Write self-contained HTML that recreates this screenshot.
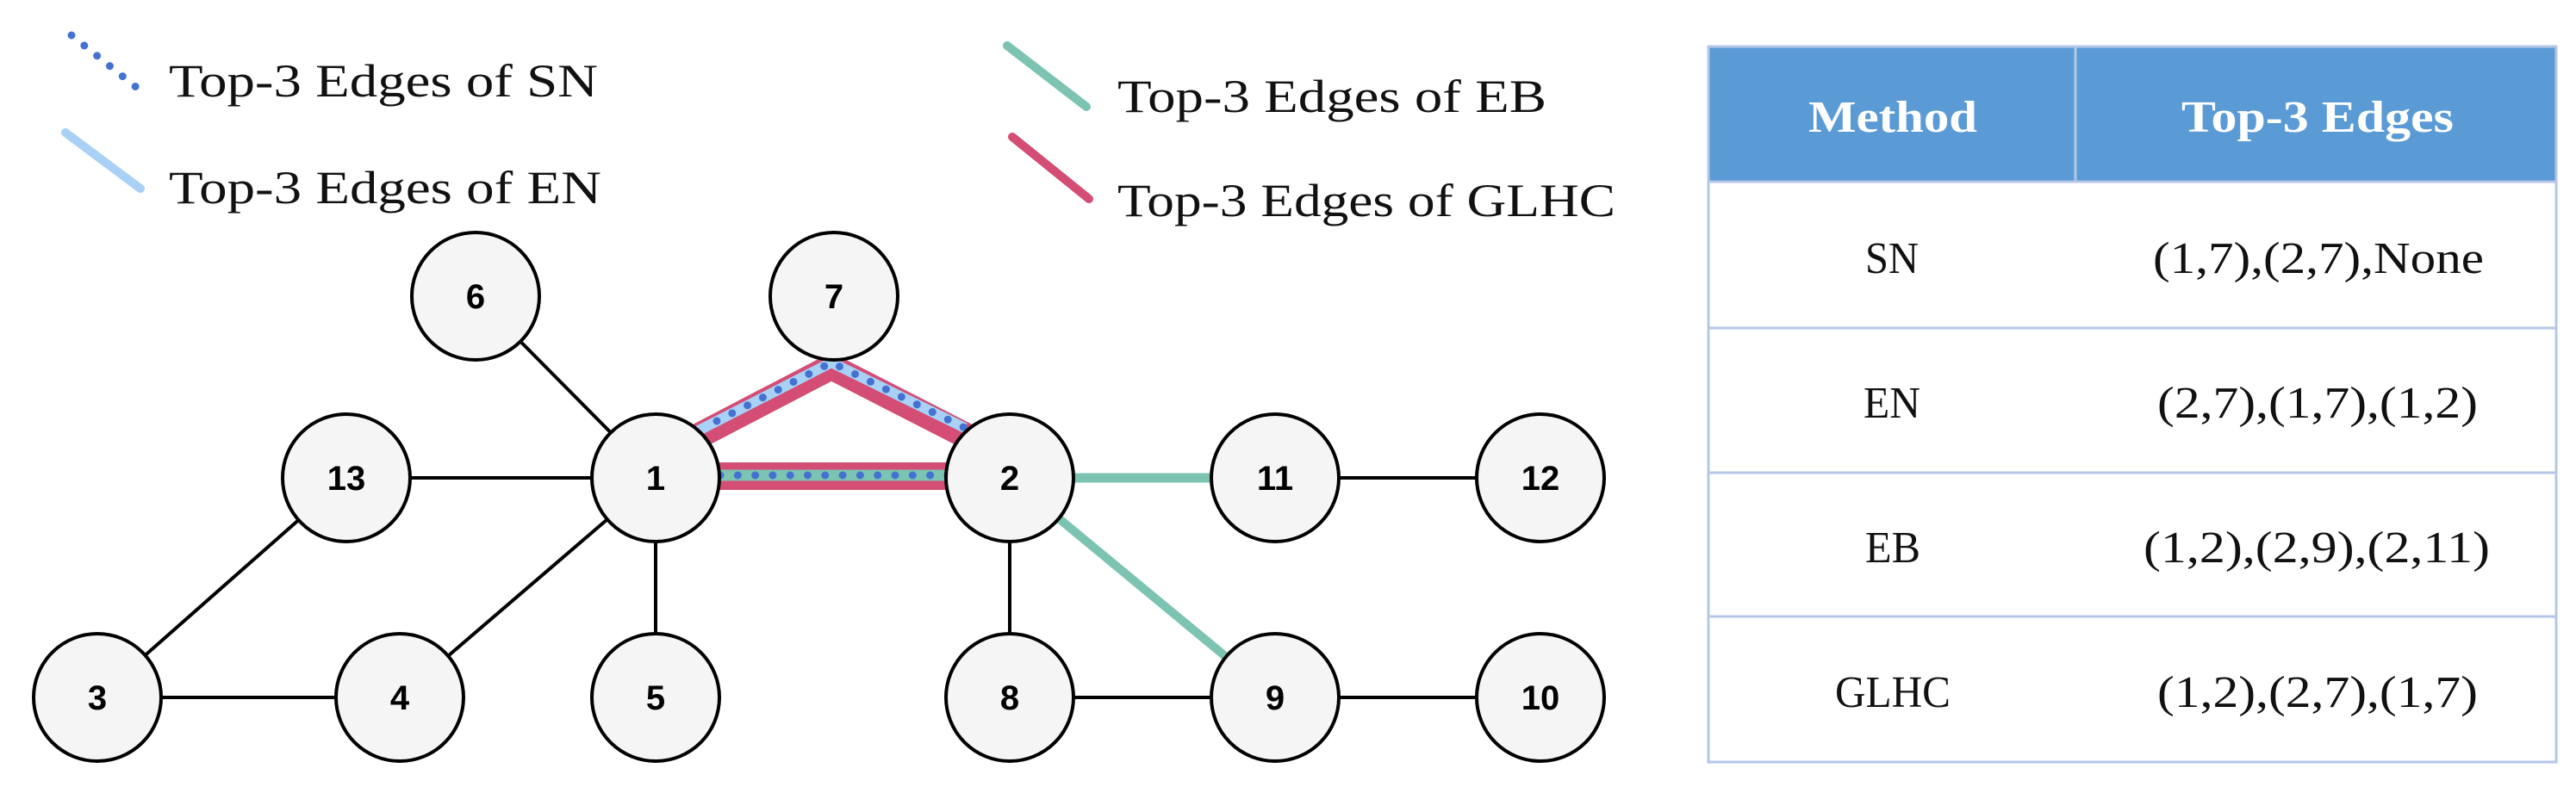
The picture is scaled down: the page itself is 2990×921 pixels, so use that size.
<!DOCTYPE html>
<html><head><meta charset="utf-8"><style>
html,body{margin:0;padding:0;background:#fff;}
svg{display:block;}
</style></head><body>
<svg width="2990" height="921" viewBox="0 0 2990 921" xmlns="http://www.w3.org/2000/svg">
<rect width="2990" height="921" fill="#fff"/>
<!-- legend -->
<line x1="83" y1="41" x2="164" y2="106" stroke="#4472d0" stroke-width="9" stroke-linecap="round" stroke-dasharray="0 19"/>
<line x1="76" y1="154" x2="163" y2="219" stroke="#a9d1f5" stroke-width="10" stroke-linecap="round"/>
<line x1="1169" y1="53" x2="1261" y2="124" stroke="#7cc3b2" stroke-width="10" stroke-linecap="round"/>
<line x1="1175" y1="159" x2="1264" y2="231" stroke="#d34d75" stroke-width="10" stroke-linecap="round"/>
<g font-family="Liberation Serif, serif" font-size="54" fill="#111">
<text x="196" y="112" textLength="498" lengthAdjust="spacingAndGlyphs">Top-3 Edges of SN</text>
<text x="196" y="236" textLength="502" lengthAdjust="spacingAndGlyphs">Top-3 Edges of EN</text>
<text x="1297" y="130" textLength="498" lengthAdjust="spacingAndGlyphs">Top-3 Edges of EB</text>
<text x="1297" y="251" textLength="578" lengthAdjust="spacingAndGlyphs">Top-3 Edges of GLHC</text>
</g>
<!-- black edges -->
<g stroke="#000" stroke-width="4">
<line x1="552" y1="344" x2="761" y2="555"/>
<line x1="402" y1="555" x2="761" y2="555"/>
<line x1="402" y1="555" x2="113" y2="810"/>
<line x1="113" y1="810" x2="464" y2="810"/>
<line x1="464" y1="810" x2="761" y2="555"/>
<line x1="761" y1="555" x2="761" y2="810"/>
<line x1="1172" y1="555" x2="1172" y2="810"/>
<line x1="1172" y1="810" x2="1788" y2="810"/>
<line x1="1480" y1="555" x2="1788" y2="555"/>
</g>
<!-- EB edges -->
<line x1="1172" y1="555" x2="1480" y2="555" stroke="#7cc3b2" stroke-width="11"/>
<line x1="1172" y1="555" x2="1480" y2="810" stroke="#7cc3b2" stroke-width="10"/>
<!-- 1-2 -->
<line x1="761" y1="553" x2="1172" y2="553" stroke="#d34d75" stroke-width="32"/>
<line x1="761" y1="552" x2="1172" y2="552" stroke="#7cc3b2" stroke-width="13"/>
<line x1="836" y1="552" x2="1172" y2="552" stroke="#4472d0" stroke-width="9" stroke-linecap="round" stroke-dasharray="0 20.3"/>
<!-- triangle -->
<polyline points="800,512 965,426 1125,508" fill="none" stroke="#d34d75" stroke-width="30" stroke-linejoin="miter"/>
<polyline points="805,503 965,421 1120,497" fill="none" stroke="#a9d1f5" stroke-width="12"/>
<polyline points="832,489 965,421 1120,497" fill="none" stroke="#4472d0" stroke-width="9" stroke-linecap="round" stroke-dasharray="0 20"/>
<!-- nodes -->
<g fill="#f5f5f5" stroke="#000" stroke-width="4">
<circle cx="552" cy="344" r="74"/><circle cx="968" cy="344" r="74"/>
<circle cx="402" cy="555" r="74"/><circle cx="761" cy="555" r="74"/><circle cx="1172" cy="555" r="74"/><circle cx="1480" cy="555" r="74"/><circle cx="1788" cy="555" r="74"/>
<circle cx="113" cy="810" r="74"/><circle cx="464" cy="810" r="74"/><circle cx="761" cy="810" r="74"/><circle cx="1172" cy="810" r="74"/><circle cx="1480" cy="810" r="74"/><circle cx="1788" cy="810" r="74"/>
</g>
<g font-family="Liberation Sans, Arial, sans-serif" font-weight="bold" font-size="40" text-anchor="middle" fill="#000">
<text x="552" y="358">6</text><text x="968" y="358">7</text>
<text x="402" y="569">13</text><text x="761" y="569">1</text><text x="1172" y="569">2</text><text x="1480" y="569">11</text><text x="1788" y="569">12</text>
<text x="113" y="824">3</text><text x="464" y="824">4</text><text x="761" y="824">5</text><text x="1172" y="824">8</text><text x="1480" y="824">9</text><text x="1788" y="824">10</text>
</g>
<!-- table -->
<rect x="1983" y="54" width="984" height="157" fill="#5b9bd5"/>
<g stroke="#b4c7e7" stroke-width="3" fill="none">
<rect x="1983" y="54" width="984" height="831"/>
<line x1="2409" y1="54" x2="2409" y2="211"/>
<line x1="1983" y1="211" x2="2967" y2="211"/>
<line x1="1983" y1="381" x2="2967" y2="381"/>
<line x1="1983" y1="549" x2="2967" y2="549"/>
<line x1="1983" y1="716" x2="2967" y2="716"/>
</g>
<g font-family="Liberation Serif, serif" font-weight="bold" font-size="52" fill="#fff" text-anchor="middle">
<text x="2197" y="153" textLength="196" lengthAdjust="spacingAndGlyphs">Method</text>
<text x="2690" y="153" textLength="316" lengthAdjust="spacingAndGlyphs">Top-3 Edges</text>
</g>
<g font-family="Liberation Serif, serif" font-size="52" fill="#111" text-anchor="middle">
<text x="2196" y="317" textLength="62" lengthAdjust="spacingAndGlyphs">SN</text>
<text x="2196" y="485" textLength="66" lengthAdjust="spacingAndGlyphs">EN</text>
<text x="2197" y="653" textLength="64" lengthAdjust="spacingAndGlyphs">EB</text>
<text x="2197" y="821" textLength="134" lengthAdjust="spacingAndGlyphs">GLHC</text>
<text x="2691" y="317" textLength="384" lengthAdjust="spacingAndGlyphs">(1,7),(2,7),None</text>
<text x="2690" y="485" textLength="372" lengthAdjust="spacingAndGlyphs">(2,7),(1,7),(1,2)</text>
<text x="2689" y="653" textLength="402" lengthAdjust="spacingAndGlyphs">(1,2),(2,9),(2,11)</text>
<text x="2690" y="821" textLength="372" lengthAdjust="spacingAndGlyphs">(1,2),(2,7),(1,7)</text>
</g>
</svg>
</body></html>
